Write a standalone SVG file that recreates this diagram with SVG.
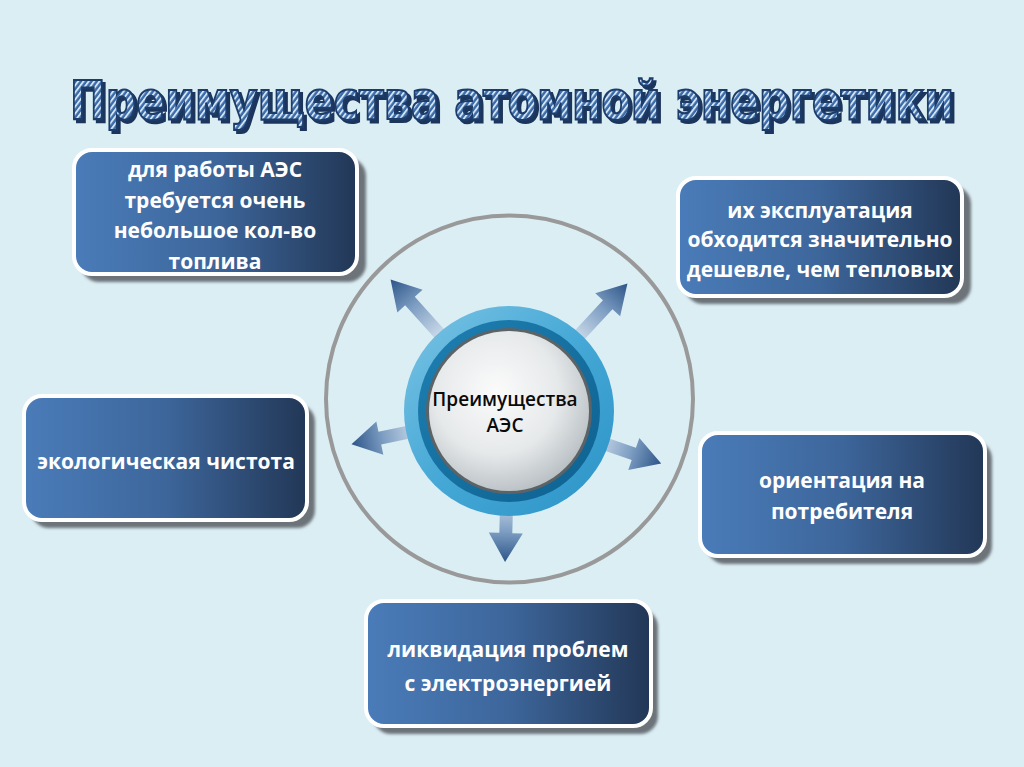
<svg xmlns="http://www.w3.org/2000/svg" width="1024" height="767" viewBox="0 0 1024 767">
<defs>
<style>
.box{stroke:#ffffff;stroke-width:4;fill:url(#boxg)}
.shadow{fill:#6c7379;filter:url(#blur)}
.bt{font-family:"Open Sans","Noto Sans",sans-serif;font-weight:700;font-size:21px;fill:#ffffff;text-anchor:middle}
.ct{font-family:"Open Sans","Noto Sans",sans-serif;font-weight:600;font-size:19px;fill:#0a0a0a;text-anchor:middle}
.arrow{fill:url(#arrg)}
.title{font-family:"DejaVu Sans",sans-serif;font-weight:700;font-size:53px}
</style>
<filter id="blur" x="-10%" y="-10%" width="120%" height="120%"><feGaussianBlur stdDeviation="1.5"/></filter>
<filter id="tshadow" x="-5%" y="-20%" width="110%" height="150%">
<feOffset in="SourceAlpha" dx="2.6" dy="3" result="o"/>
<feFlood flood-color="#1b355c"/>
<feComposite in2="o" operator="in" result="s"/>
<feMerge><feMergeNode in="s"/><feMergeNode in="SourceGraphic"/></feMerge>
</filter>
<linearGradient id="boxg" x1="0" y1="0" x2="1" y2="0">
<stop offset="0" stop-color="#4a7cb9"/>
<stop offset="0.5" stop-color="#3d669b"/>
<stop offset="1" stop-color="#223756"/>
</linearGradient>
<linearGradient id="arrg" x1="0" y1="0" x2="1" y2="0">
<stop offset="0.55" stop-color="#d4e2ee"/>
<stop offset="0.8" stop-color="#7d9dc2"/>
<stop offset="1" stop-color="#2c5588"/>
</linearGradient>
<linearGradient id="ringg" x1="0" y1="0" x2="1" y2="1">
<stop offset="0" stop-color="#7cc4e4"/>
<stop offset="0.5" stop-color="#45a8d6"/>
<stop offset="1" stop-color="#2b93c6"/>
</linearGradient>
<linearGradient id="darkring" x1="0" y1="0" x2="1" y2="1">
<stop offset="0" stop-color="#1f80b2"/>
<stop offset="1" stop-color="#0d6190"/>
</linearGradient>
<radialGradient id="innerg" cx="0.42" cy="0.38" r="0.65">
<stop offset="0" stop-color="#fbfbfb"/>
<stop offset="0.6" stop-color="#e6e9ea"/>
<stop offset="1" stop-color="#b8bfc3"/>
</radialGradient>
<pattern id="hatch" width="5" height="5" patternUnits="userSpaceOnUse" patternTransform="rotate(45)">
<rect width="5" height="5" fill="#3b6ba9"/>
<rect width="2.2" height="5" fill="#d3e5f5"/>
</pattern>
</defs>
<rect width="1024" height="767" fill="#dbeef4"/>

<g id="title" filter="url(#tshadow)">
<text class="title" transform="translate(70,119) scale(0.75,1)" x="0" y="0" textLength="1179" lengthAdjust="spacingAndGlyphs" fill="url(#hatch)" stroke="#1e3d6b" stroke-width="2.2">Преимущества атомной энергетики</text>
</g>

<circle id="outer-circle" cx="509.5" cy="399" r="183.5" fill="none" stroke="#999999" stroke-width="4"/>

<g id="connectors">
<polygon class="arrow" transform="translate(509,411) rotate(-132)" points="0,-6.5 148,-6.5 148,-17 177,0 148,17 148,6.5 0,6.5"/>
<polygon class="arrow" transform="translate(509,411) rotate(-47.1)" points="0,-6.5 145,-6.5 145,-17 174,0 145,17 145,6.5 0,6.5"/>
<polygon class="arrow" transform="translate(509,411) rotate(168.1)" points="0,-6.5 132,-6.5 132,-17 161,0 132,17 132,6.5 0,6.5"/>
<polygon class="arrow" transform="translate(509,411) rotate(19)" points="0,-6.5 132,-6.5 132,-17 161,0 132,17 132,6.5 0,6.5"/>
<polygon class="arrow" transform="translate(509,411) rotate(91.5)" points="0,-6.5 122,-6.5 122,-17 151,0 122,17 122,6.5 0,6.5"/>
</g>

<g id="node-center">
<circle cx="509" cy="411" r="105" fill="url(#ringg)"/>
<circle cx="509" cy="411" r="91" fill="url(#darkring)"/>
<circle cx="509" cy="411" r="83" fill="#5c6366"/>
<circle cx="509" cy="411" r="80" fill="url(#innerg)"/>
<text class="ct" x="505" y="406">Преимущества</text>
<text class="ct" x="505" y="432">АЭС</text>
</g>

<g id="node-fuel">
<rect class="shadow" x="81" y="158" width="285" height="124" rx="18"/>
<rect class="box" x="74" y="150" width="283" height="124" rx="18"/>
<text class="bt" x="215" y="177">для работы АЭС</text>
<text class="bt" x="215" y="208">требуется очень</text>
<text class="bt" x="215" y="238">небольшое кол-во</text>
<text class="bt" x="215" y="269">топлива</text>
</g>

<g id="node-cost">
<rect class="shadow" x="685" y="186" width="286" height="118" rx="18"/>
<rect class="box" x="678" y="178" width="284" height="118" rx="18"/>
<text class="bt" x="820" y="218">их эксплуатация</text>
<text class="bt" x="820" y="247">обходится значительно</text>
<text class="bt" x="820" y="277">дешевле, чем тепловых</text>
</g>

<g id="node-ecology">
<rect class="shadow" x="31" y="404" width="284" height="124" rx="18"/>
<rect class="box" x="24" y="396" width="283" height="124" rx="18"/>
<text class="bt" x="166" y="469">экологическая чистота</text>
</g>

<g id="node-consumer">
<rect class="shadow" x="707" y="441" width="285" height="123" rx="18"/>
<rect class="box" x="700" y="433" width="285" height="123" rx="18"/>
<text class="bt" x="842" y="488">ориентация на</text>
<text class="bt" x="842" y="519">потребителя</text>
</g>

<g id="node-electricity">
<rect class="shadow" x="373" y="609" width="285" height="125" rx="18"/>
<rect class="box" x="366" y="601" width="285" height="125" rx="18"/>
<text class="bt" x="508" y="657">ликвидация проблем</text>
<text class="bt" x="508" y="691">с электроэнергией</text>
</g>
</svg>
